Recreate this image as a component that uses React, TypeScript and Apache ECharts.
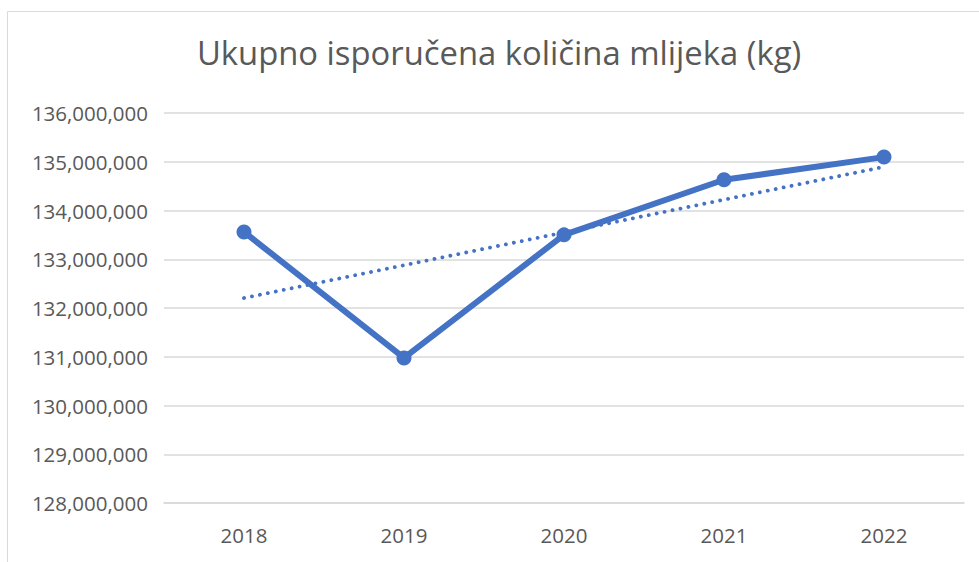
import React, { useEffect, useRef } from "react";
import * as echarts from "echarts";

const years = ["2018", "2019", "2020", "2021", "2022"];
const milkKg = [133560000, 130975000, 133500000, 134630000, 135095000];
const trendKg = [132205000, null, null, null, 134895000];
const titleText = "Ukupno isporučena količina mlijeka (kg)";

export default function App() {
  const ref = useRef<HTMLDivElement>(null);
  useEffect(() => {
    if (!ref.current) return;
    const chart = echarts.init(ref.current, null, { renderer: "svg" });
    const font = "'Open Sans', 'Noto Sans', sans-serif";
    chart.setOption({
      animation: false,
      backgroundColor: "#ffffff",
      title: {
        text: titleText,
        left: 494,
        top: 31,
        textAlign: "center",
        textStyle: { color: "#595959", fontSize: 32.8, fontWeight: "normal", fontFamily: font },
      },
      graphic: [
        {
          type: "rect",
          shape: { x: 7.5, y: 11.5, width: 1000, height: 600 },
          style: { fill: "none", stroke: "#d9d9d9", lineWidth: 1 },
          silent: true,
          z: -1,
        },
      ],
      grid: { left: 164, right: 15, top: 113, bottom: 59 },
      xAxis: {
        type: "category",
        data: years,
        boundaryGap: true,
        axisLine: { show: true, lineStyle: { color: "#d9d9d9", width: 1.5 } },
        axisTick: { show: false },
        axisLabel: { color: "#595959", fontSize: 20.5, fontFamily: font, margin: 21 },
      },
      yAxis: {
        type: "value",
        min: 128000000,
        max: 136000000,
        interval: 1000000,
        axisLine: { show: false },
        axisTick: { show: false },
        splitLine: { lineStyle: { color: "#d9d9d9", width: 1.5 } },
        axisLabel: {
          color: "#595959",
          fontSize: 20.5,
          fontFamily: font,
          margin: 16,
          formatter: (v: number) => v.toLocaleString("en-US"),
        },
      },
      series: [
        {
          type: "line",
          data: trendKg,
          connectNulls: true,
          showSymbol: false,
          symbol: "none",
          lineStyle: { color: "#4472C4", width: 3.8, type: [0.1, 8], cap: "round" },
          z: 2,
        },
        {
          type: "line",
          data: milkKg,
          symbol: "circle",
          symbolSize: 15,
          itemStyle: { color: "#4472C4" },
          lineStyle: { color: "#4472C4", width: 6 },
          z: 3,
        },
      ],
    });
    return () => chart.dispose();
  }, []);
  return (
    <div
      ref={ref}
      style={{ position: "fixed", left: 0, top: 0, width: 979, height: 562 }}
    />
  );
}
